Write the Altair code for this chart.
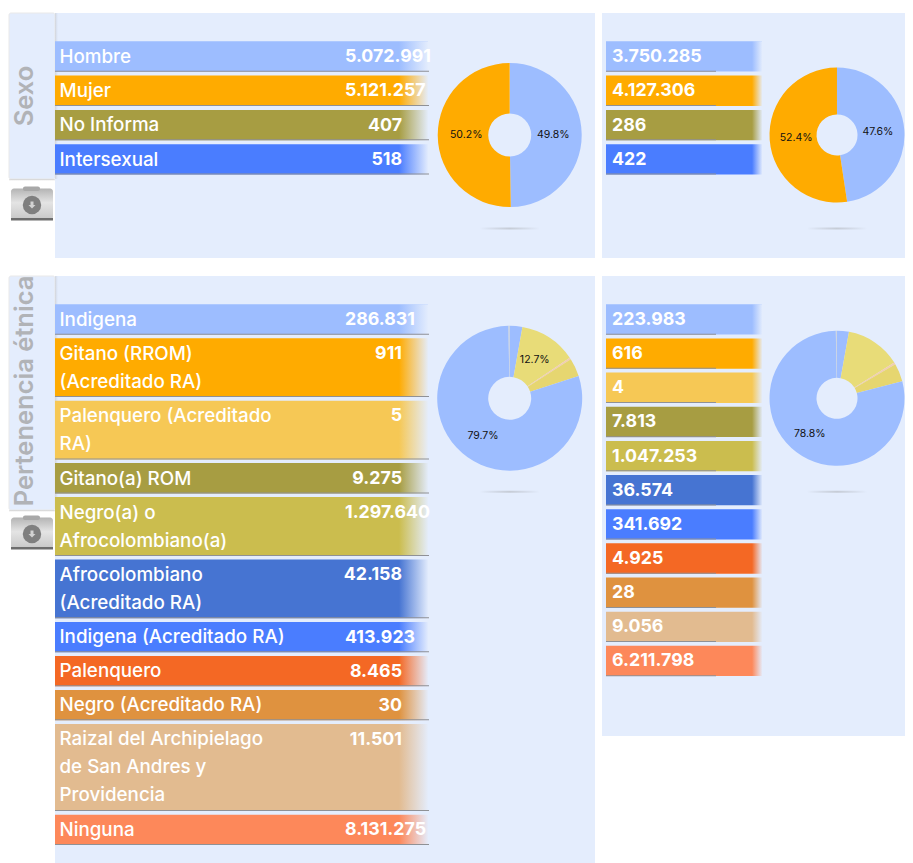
import math
import altair as alt
import pandas as pd

# ---- chart values ----
sexo_labels = ["Hombre", "Mujer", "No Informa", "Intersexual"]
sexo_left = [5072991, 5121257, 407, 518]
sexo_right = [3750285, 4127306, 286, 422]
sexo_left_txt = ["5.072.991", "5.121.257", "407", "518"]
sexo_right_txt = ["3.750.285", "4.127.306", "286", "422"]
sexo_colors = ["#9dbdff", "#ffab00", "#a79d42", "#4a7dff"]

etnia_labels = [
    "Indigena", "Gitano (RROM)\n(Acreditado RA)", "Palenquero (Acreditado\nRA)", "Gitano(a) ROM",
    "Negro(a) o\nAfrocolombiano(a)", "Afrocolombiano\n(Acreditado RA)", "Indigena (Acreditado RA)",
    "Palenquero", "Negro (Acreditado RA)", "Raizal del Archipielago\nde San Andres y\nProvidencia", "Ninguna",
]
etnia_left = [286831, 911, 5, 9275, 1297640, 42158, 413923, 8465, 30, 11501, 8131275]
etnia_right = [223983, 616, 4, 7813, 1047253, 36574, 341692, 4925, 28, 9056, 6211798]
etnia_left_txt = ["286.831", "911", "5", "9.275", "1.297.640", "42.158", "413.923", "8.465", "30", "11.501", "8.131.275"]
etnia_right_txt = ["223.983", "616", "4", "7.813", "1.047.253", "36.574", "341.692", "4.925", "28", "9.056", "6.211.798"]
etnia_colors = ["#9dbdff", "#ffab00", "#f6c855", "#a79d42", "#cbbd4e", "#4674d2",
                "#4a7dff", "#f46824", "#df923f", "#e2bb90", "#fd885a"]
# slice order and colours used by the ethnic pies (index into the rows above)
pie_order = [0, 4, 5, 6, 10, 1, 2, 3, 7, 8, 9]
pie_colors = ["#9dbdff", "#e8dc78", "#f2cdb0", "#e6d670", "#9dbdff",
              "#c3cbd8", "#c3cbd8", "#c3cbd8", "#c3cbd8", "#c3cbd8", "#c3cbd8"]
sexo_pie_colors = ["#9dbdff", "#ffab00", "#a79d42", "#4a7dff"]

# ---- layout ----
W, H = 897, 855
PANEL = "#e4edfd"
FONT = "Inter"
sx = alt.Scale(domain=[8, 8 + W], nice=False, zero=False)
sy = alt.Scale(domain=[8 + H, 8], nice=False, zero=False)


def rect(rows, **mark):
    df = pd.DataFrame(rows, columns=["x0", "x1", "y0", "y1"])
    return alt.Chart(df).mark_rect(**mark).encode(
        x=alt.X("x0:Q", scale=sx, axis=None), x2="x1:Q",
        y=alt.Y("y0:Q", scale=sy, axis=None), y2="y1:Q",
    )


def hgrad(stops):
    return alt.Gradient(gradient="linear", x1=0, x2=1, y1=0, y2=0,
                        stops=[alt.GradientStop(color=c, offset=o) for o, c in stops])


def vgrad(stops):
    return alt.Gradient(gradient="linear", x1=0, x2=0, y1=0, y2=1,
                        stops=[alt.GradientStop(color=c, offset=o) for o, c in stops])


def row_tops(labels, top, line_h, pad):
    out, y = [], top
    for t in labels:
        n = t.count("\n") + 1
        h = line_h * n + pad
        out.append((y, y + h - pad + 1.9))
        y += h
    return out


def texts(df, xf="x", **mark):
    return alt.Chart(df).mark_text(**mark).encode(
        x=alt.X(f"{xf}:Q", scale=sx, axis=None),
        y=alt.Y("y:Q", scale=sy, axis=None),
        text="t:N",
    )


def table(labels, values_txt, colors, spans, x0, x1, fade_from, line_end, label_x=None, val_x=None):
    df = pd.DataFrame({
        "x0": x0, "x1": x1,
        "y0": [s[0] for s in spans], "y1": [s[1] for s in spans],
        "c": colors, "t": values_txt,
        "y": [s[0] + 6.6 for s in spans],
    })
    bars = alt.Chart(df).mark_rect().encode(
        x=alt.X("x0:Q", scale=sx, axis=None), x2="x1:Q",
        y=alt.Y("y0:Q", scale=sy, axis=None), y2="y1:Q",
        color=alt.Color("c:N", scale=None),
    )
    fade = rect([(fade_from, x1 + 0.5, spans[0][0], spans[-1][1] + 0.5)],
                color=hgrad([(0, "rgba(228,237,253,0)"), (1, PANEL)]))
    rules = rect([(x0, line_end, s[1] - 0.9, s[1] + 0.1) for s in spans], color="#8f9196")
    layers = [bars, fade, rules]
    if label_x is not None:
        ldf = pd.DataFrame({"x": label_x, "y": [s[0] + 6.4 for s in spans], "t": labels})
        layers.append(texts(ldf, font=FONT, fontSize=18.8, fontWeight=500, color="white",
                            align="left", baseline="top", lineBreak="\n", lineHeight=28))
        short = df[df["t"].str.len() <= 6].assign(x=402)
        long_ = df[df["t"].str.len() > 6].assign(x=345)
        layers.append(texts(short, font=FONT, fontSize=17.8, fontWeight=700, color="white",
                            align="right", baseline="top"))
        layers.append(texts(long_, font=FONT, fontSize=17.8, fontWeight=700, color="white",
                            align="left", baseline="top"))
    else:
        layers.append(texts(df.assign(x=val_x), font=FONT, fontSize=17.8, fontWeight=700, color="white",
                            align="left", baseline="top"))
    return layers


def pie(values, colors, order, cx, cy, R, r, R_text, min_label):
    total = sum(values)
    sh = [values[i] / total for i in order]
    df = pd.DataFrame({
        "i": list(range(len(order))), "share": sh, "c": colors,
        "t": [f"{s * 100:.1f}%" if s >= min_label else "" for s in sh],
    })
    theta = alt.Theta("share:Q", stack=True, scale=alt.Scale(domain=[0, 1], range=[0, 2 * math.pi]))
    pos = dict(x=alt.value(cx - 8), y=alt.value(cy - 8))
    arc = alt.Chart(df).mark_arc(outerRadius=R, innerRadius=r).encode(
        theta=theta, order=alt.Order("i:Q"), detail="i:N",
        color=alt.Color("c:N", scale=None), **pos)
    lab = alt.Chart(df).mark_text(radius=R_text, fontSize=10.5, font=FONT, color="#111111").encode(
        theta=theta, order=alt.Order("i:Q"), detail="i:N", text="t:N", **pos)
    shadow = rect([(cx - 30, cx + 30, cy + 92.5, cy + 94.5)],
                  color=hgrad([(0, "rgba(190,196,208,0)"), (0.5, "#c6ccd6"), (1, "rgba(190,196,208,0)")]))
    return [shadow, arc, lab]


def icon(top):
    base = rect([(11, 53, top + 1.5, top + 33)], cornerRadius=3,
                color=vgrad([(0, "#b4b4b4"), (0.45, "#e4e4e4"), (0.88, "#cdcdcd"), (1, "#c4c4c4")]))
    strip = rect([(11, 53, top + 31, top + 33.5)], color="#6d6d6d")
    flap = rect([(23, 40, top - 0.5, top + 4)], cornerRadius=2, color="#a8a8a8")
    pts = pd.DataFrame({"x": [32], "y": [top + 18]})
    enc = dict(x=alt.X("x:Q", scale=sx, axis=None), y=alt.Y("y:Q", scale=sy, axis=None))
    disc = alt.Chart(pts).mark_point(filled=True, opacity=1, size=340, color="#7f7f7f", shape="circle").encode(**enc)
    arrow = alt.Chart(pts).mark_point(
        filled=True, opacity=1, size=100, color="#d2d2d2",
        shape="M -0.3 -0.7 L 0.3 -0.7 L 0.3 0 L 0.7 0 L 0 0.7 L -0.7 0 L -0.3 0 Z").encode(**enc)
    return [base, strip, flap, disc, arrow]


def side_tab(y0, y1, title, cy):
    tab = rect([(9, 55, y0, y1)], color=PANEL, cornerRadius=2, stroke="#e9e9e9", strokeWidth=1)
    sh_r = rect([(55, 58, y0, y1)], color=hgrad([(0, "rgba(130,130,130,0.2)"), (1, "rgba(130,130,130,0)")]))
    sh_b = rect([(9, 55, y1, y1 + 2)], color=vgrad([(0, "rgba(130,130,130,0.3)"), (1, "rgba(130,130,130,0)")]))
    df = pd.DataFrame({"x": [24.5], "y": [cy], "t": [title]})
    t = texts(df, font=FONT, fontSize=25.5, fontWeight=600, color="#b1b3b7", angle=270,
              align="center", baseline="middle")
    return [tab, sh_r, sh_b, t]


panels = rect([(55, 595, 13, 258), (602, 913, 13, 258), (55, 595, 276, 863), (602, 913, 276, 736)], color=PANEL)

sexo_spans = row_tops(sexo_labels, 41.3, 28.4, 5.9)
etnia_spans = row_tops(etnia_labels, 304.3, 28.4, 5.6)
etnia_spans_r = row_tops(["x"] * len(etnia_labels), 304.3, 28.4, 5.75)

layers = [panels]
layers += side_tab(13, 179, "Sexo", 96) + side_tab(276, 510, "Pertenencia étnica", 391)
layers += icon(187) + icon(516)
layers += table(sexo_labels, sexo_left_txt, sexo_colors, sexo_spans, 55, 428, 399, 429, label_x=59.5)
layers += table(sexo_labels, sexo_right_txt, sexo_colors, sexo_spans, 606, 762, 752, 716, val_x=612)
layers += table(etnia_labels, etnia_left_txt, etnia_colors, etnia_spans, 55, 428, 399, 429, label_x=59.5)
layers += table(etnia_labels, etnia_right_txt, etnia_colors, etnia_spans_r, 606, 762, 752, 716, val_x=612)
layers += pie(sexo_left, sexo_pie_colors, [0, 1, 2, 3], 509.7, 135, 72, 21.5, 43.5, 0.1)
layers += pie(sexo_right, sexo_pie_colors, [0, 1, 2, 3], 837, 135, 67.5, 20.5, 41, 0.1)
layers += pie(etnia_left, pie_colors, pie_order, 509.7, 398.3, 72.5, 21.5, 46, 0.1)
layers += pie(etnia_right, pie_colors, pie_order, 837, 398.3, 67.5, 20.5, 45, 0.2)

chart = alt.layer(*layers).properties(
    width=W, height=H, padding=0, autosize=alt.AutoSizeParams(type="none"), background="white",
).configure_view(stroke=None)

chart.save("out.html", embed_options={"renderer": "svg", "actions": False})
